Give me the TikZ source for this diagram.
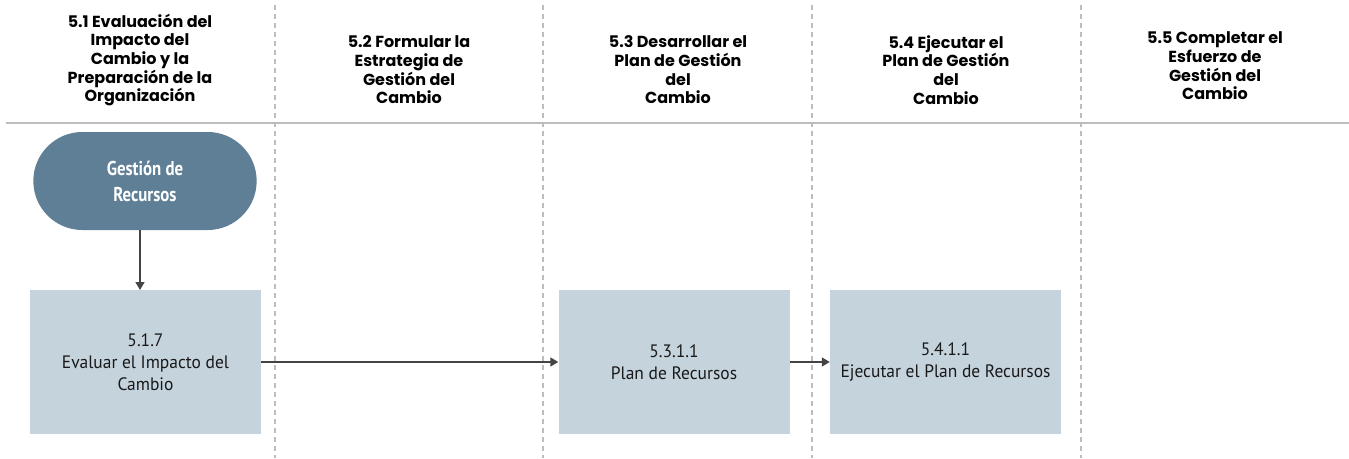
\documentclass[tikz,border=0pt]{standalone}
\usepackage{fontspec}
\setmainfont{PT Sans}
\newfontfamily\headfont{Poppins}[UprightFont=* Bold]
\newfontfamily\bodyfont{PT Sans}[FakeStretch=0.97]
\newfontfamily\narrowbold{PT Sans Bold}[FakeStretch=0.84]
\usetikzlibrary{arrows.meta,shapes.misc}
\definecolor{stadfill}{HTML}{5E7F96}
\definecolor{boxfill}{HTML}{C5D3DC}
\definecolor{linegray}{HTML}{BDBDBD}
\definecolor{arrowgray}{HTML}{444444}
\tikzset{
  header/.style={align=center, font=\headfont\fontsize{16}{18.7}\selectfont, text=black, inner sep=0pt},
  stepbox/.style={fill=boxfill, draw=none, minimum width=231pt, minimum height=144pt, align=center, inner sep=2pt, font=\bodyfont\fontsize{18}{22}\selectfont, text=black!90},
  stad/.style={rounded rectangle, fill=stadfill, draw=none, minimum width=230pt, minimum height=98pt, align=center, text=white, font=\narrowbold\fontsize{20}{26}\selectfont},
  lane/.style={draw=linegray, line width=1.2pt, dash pattern=on 5pt off 4pt},
  flow/.style={draw=arrowgray, line width=1.5pt, -{Triangle[length=8pt,width=9pt]}}
}
\begin{document}
\begin{tikzpicture}[x=1pt,y=-1pt]
\useasboundingbox (0,0) rectangle (1349,458);
% lanes
\draw[lane] (275,5) -- (275,458);
\draw[lane] (543,5) -- (543,458);
\draw[lane] (812,5) -- (812,458);
\draw[lane] (1081,5) -- (1081,458);
\draw[draw=linegray, line width=1.5pt] (6,123) -- (1349,123);
% headers
\node[header] (h1) at (140,60) {5.1 Evaluación del\\Impacto del\\Cambio y la\\Preparación de la\\Organización};
\node[header] (h2) at (409,70) {5.2 Formular la\\Estrategia de\\Gestión del\\Cambio};
\node[header] (h3) at (678,70) {5.3 Desarrollar el\\Plan de Gestión\\del\\Cambio};
\node[header] (h4) at (946,70) {5.4 Ejecutar el\\Plan de Gestión\\del\\Cambio};
\node[header] (h5) at (1215,66) {5.5 Completar el\\Esfuerzo de\\Gestión del\\Cambio};
% nodes
\node[stad] (gr) at (145,181) {Gestión de\\Recursos};
\node[stepbox] (s517) at (145.5,362) {5.1.7\\Evaluar el Impacto del\\Cambio};
\node[stepbox] (s5311) at (674,362) {5.3.1.1\\Plan de Recursos};
\node[stepbox] (s5411) at (945.5,362) {5.4.1.1\\Ejecutar el Plan de Recursos};
% connectors
\draw[flow] (gr.south -| 140,0) -- (140,290);
\draw[flow] (s517.east) -- (s5311.west);
\draw[flow] (s5311.east) -- (s5411.west);
\end{tikzpicture}
\end{document}
